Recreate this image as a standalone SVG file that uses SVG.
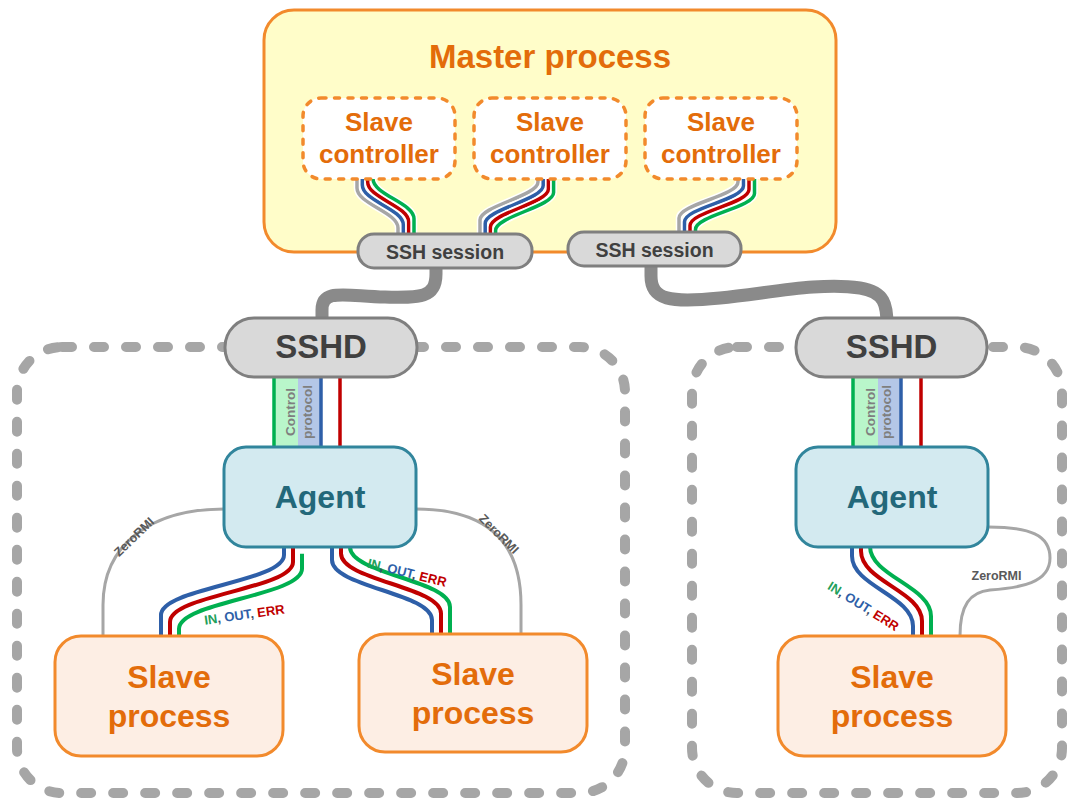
<svg xmlns="http://www.w3.org/2000/svg" xmlns:xlink="http://www.w3.org/1999/xlink" width="1068" height="800" viewBox="0 0 1068 800">
  <style>
    text { font-family: "Liberation Sans", Arial, sans-serif; font-weight: bold; }
    .host { fill: none; stroke: #a6a6a6; stroke-width: 10; stroke-dasharray: 10 22; stroke-linecap: round; }
    .master { fill: #fffdc9; stroke: #f28a2c; stroke-width: 3; }
    .ctrl { fill: #ffffff; stroke: #f28a2c; stroke-width: 3.5; stroke-dasharray: 5 8.5; stroke-linecap: round; }
    .ssh { fill: #d9d9d9; stroke: #7f7f7f; stroke-width: 3; }
    .agent { fill: #d3eaf0; stroke: #31859c; stroke-width: 3; }
    .proc { fill: #fdeee4; stroke: #f28a2c; stroke-width: 3; }
    .orange { fill: #e36c0a; }
    .dark { fill: #404040; }
    .teal { fill: #23687a; }
    .pipe { fill: none; stroke: #8a8a8a; stroke-width: 13; }
    .halo { fill: none; stroke: #ffffff; stroke-width: 6.5; }
    .gy { fill: none; stroke: #a6a6a6; stroke-width: 3.5; }
    .bl { fill: none; stroke: #2e5fa8; stroke-width: 3.5; }
    .rd { fill: none; stroke: #c00000; stroke-width: 3.5; }
    .gn { fill: none; stroke: #00b050; stroke-width: 3.5; }
    .io { stroke-width: 4; }
    .rmi { fill: none; stroke: #a6a6a6; stroke-width: 3; }
    .rmitxt { fill: #595959; font-size: 12.5px; }
    .cp { fill: #7f7f7f; font-size: 13.5px; }
    .iot { font-size: 13px; }
    .tg { fill: #22a05a; } .tb { fill: #2e5fa8; } .tr { fill: #c00000; } .tc { fill: #3a4a6a; }
  </style>
  <defs>
    <!-- base centre lines; parallel strands are shifted copies -->
    <path id="cw1" d="M357,160 L357,188 C357,204 398,212 398,228 L398,252"/>
    <path id="cw2" d="M538,160 L538,182 C538,196 480,206 480,220 L480,252"/>
    <path id="cw3" d="M738,160 L738,182 C738,196 679,204 679,218 L679,250"/>
    <path id="io1" d="M284,540 L284,555 C284,582 161,588 161,615 L161,650"/>
    <path id="io2" d="M332,540 L332,560 C332,587 432,593 432,620 L432,650"/>
    <path id="io3" d="M852,540 L852,556 C852,586 913,596 913,626 L913,650"/>
  </defs>

  <!-- host boundaries -->
  <g id="host-left">
    <rect class="host" x="17" y="347" width="608" height="446" rx="45"/>
  </g>
  <g id="host-right">
    <rect class="host" x="692" y="347" width="370" height="446" rx="45"/>
  </g>

  <!-- master process container -->
  <g id="master-process">
    <rect class="master" x="264" y="10" width="572" height="242" rx="30"/>
    <text class="orange" x="550" y="68" font-size="33" text-anchor="middle">Master process</text>
  </g>

  <g id="connectors">
    <!-- controller to SSH session bundles -->
    <g>
      <use href="#cw1" class="halo"/><use href="#cw1" class="gy"/>
      <use href="#cw1" transform="translate(5.33,-3.05)" class="halo"/><use href="#cw1" transform="translate(5.33,-3.05)" class="bl"/>
      <use href="#cw1" transform="translate(10.66,-6.1)" class="halo"/><use href="#cw1" transform="translate(10.66,-6.1)" class="rd"/>
      <use href="#cw1" transform="translate(16,-9.15)" class="halo"/><use href="#cw1" transform="translate(16,-9.15)" class="gn"/>
    </g>
    <g>
      <use href="#cw2" class="halo"/><use href="#cw2" class="gy"/>
      <use href="#cw2" transform="translate(5.2,3.5)" class="halo"/><use href="#cw2" transform="translate(5.2,3.5)" class="bl"/>
      <use href="#cw2" transform="translate(10.4,7)" class="halo"/><use href="#cw2" transform="translate(10.4,7)" class="rd"/>
      <use href="#cw2" transform="translate(15.6,10.5)" class="halo"/><use href="#cw2" transform="translate(15.6,10.5)" class="gn"/>
    </g>
    <g>
      <use href="#cw3" class="halo"/><use href="#cw3" class="gy"/>
      <use href="#cw3" transform="translate(5.5,3.8)" class="halo"/><use href="#cw3" transform="translate(5.5,3.8)" class="bl"/>
      <use href="#cw3" transform="translate(11,7.6)" class="halo"/><use href="#cw3" transform="translate(11,7.6)" class="rd"/>
      <use href="#cw3" transform="translate(16.5,11.4)" class="halo"/><use href="#cw3" transform="translate(16.5,11.4)" class="gn"/>
    </g>

    <!-- SSH tunnels -->
    <path class="pipe" d="M436,262 L436,274 C436,298 420,298 385,297 C345,296 322,288 322,310 L322,325"/>
    <path class="pipe" d="M651,262 L651,276 C651,300 670,303 720,298 C770,293 820,282 860,288 C885,292 887,305 887,325"/>

    <!-- control protocol channels, left host -->
    <rect x="274" y="377" width="24" height="70" fill="#b9f6ca"/>
    <rect x="298" y="377" width="23" height="70" fill="#b4c7e7"/>
    <line class="gn" x1="274" y1="377" x2="274" y2="447"/>
    <line class="bl" x1="321" y1="377" x2="321" y2="447"/>
    <line class="rd" x1="340" y1="377" x2="340" y2="447"/>
    <text class="cp" transform="translate(295,412) rotate(-90)" text-anchor="middle">Control</text>
    <text class="cp" transform="translate(311.5,412) rotate(-90)" text-anchor="middle">protocol</text>

    <!-- control protocol channels, right host -->
    <rect x="853" y="377" width="25" height="70" fill="#b9f6ca"/>
    <rect x="878" y="377" width="23" height="70" fill="#b4c7e7"/>
    <line class="gn" x1="853" y1="377" x2="853" y2="447"/>
    <line class="bl" x1="901" y1="377" x2="901" y2="447"/>
    <line class="rd" x1="921" y1="377" x2="921" y2="447"/>
    <text class="cp" transform="translate(875,412) rotate(-90)" text-anchor="middle">Control</text>
    <text class="cp" transform="translate(890.5,412) rotate(-90)" text-anchor="middle">protocol</text>

    <!-- ZeroRMI links -->
    <path class="rmi" d="M224,509 C150,509 103,545 103,605 L103,636"/>
    <text class="rmitxt" transform="translate(137,540) rotate(-44)" text-anchor="middle">ZeroRMI</text>
    <path class="rmi" d="M416,509 C490,509 521,545 521,605 L521,636"/>
    <text class="rmitxt" transform="translate(496,537) rotate(45)" text-anchor="middle">ZeroRMI</text>
    <path class="rmi" d="M988,527 C1030,527 1050,535 1050,558 C1050,583 1020,588 990,590 C970,592 960,605 960,636"/>
    <text class="rmitxt" x="996.5" y="579.5" font-size="13" text-anchor="middle">ZeroRMI</text>

    <!-- standard streams -->
    <use href="#io1" class="bl io"/>
    <use href="#io1" transform="translate(9,6.9)" class="rd io"/>
    <use href="#io1" transform="translate(18,13.8)" class="gn io"/>
    <use href="#io2" class="bl io"/>
    <use href="#io2" transform="translate(9,-6.5)" class="rd io"/>
    <use href="#io2" transform="translate(18,-13)" class="gn io"/>
    <use href="#io3" class="bl io"/>
    <use href="#io3" transform="translate(9,-4.9)" class="rd io"/>
    <use href="#io3" transform="translate(18,-9.8)" class="gn io"/>

    <text class="iot" transform="translate(245,619) rotate(-8)" text-anchor="middle"><tspan class="tg">IN</tspan><tspan class="tc">, </tspan><tspan class="tb">OUT</tspan><tspan class="tc">, </tspan><tspan class="tr">ERR</tspan></text>
    <text class="iot" transform="translate(406,577) rotate(14)" text-anchor="middle"><tspan class="tg">IN</tspan><tspan class="tc">, </tspan><tspan class="tb">OUT</tspan><tspan class="tc">, </tspan><tspan class="tr">ERR</tspan></text>
    <text class="iot" transform="translate(861,610) rotate(32)" text-anchor="middle"><tspan class="tg">IN</tspan><tspan class="tc">, </tspan><tspan class="tb">OUT</tspan><tspan class="tc">, </tspan><tspan class="tr">ERR</tspan></text>
  </g>

  <!-- slave controllers inside the master -->
  <g id="slave-controller-1">
    <rect class="ctrl" x="303" y="98" width="152" height="81" rx="18"/>
    <text class="orange" x="379" y="131" font-size="26" text-anchor="middle">Slave</text>
    <text class="orange" x="379" y="163" font-size="26" text-anchor="middle">controller</text>
  </g>
  <g id="slave-controller-2">
    <rect class="ctrl" x="474" y="98" width="152" height="81" rx="18"/>
    <text class="orange" x="550" y="131" font-size="26" text-anchor="middle">Slave</text>
    <text class="orange" x="550" y="163" font-size="26" text-anchor="middle">controller</text>
  </g>
  <g id="slave-controller-3">
    <rect class="ctrl" x="645" y="98" width="152" height="81" rx="18"/>
    <text class="orange" x="721" y="131" font-size="26" text-anchor="middle">Slave</text>
    <text class="orange" x="721" y="163" font-size="26" text-anchor="middle">controller</text>
  </g>

  <!-- SSH sessions -->
  <g id="ssh-session-1">
    <rect class="ssh" x="358" y="234" width="174" height="34" rx="16"/>
    <text class="dark" x="445" y="258.5" font-size="19.5" text-anchor="middle">SSH session</text>
  </g>
  <g id="ssh-session-2">
    <rect class="ssh" x="568" y="232" width="173" height="34" rx="16"/>
    <text class="dark" x="654.5" y="256.5" font-size="19.5" text-anchor="middle">SSH session</text>
  </g>

  <!-- SSH daemons -->
  <g id="sshd-left">
    <rect class="ssh" x="225" y="318" width="192" height="59" rx="29"/>
    <text class="dark" x="321" y="358" font-size="33" text-anchor="middle">SSHD</text>
  </g>
  <g id="sshd-right">
    <rect class="ssh" x="796" y="318" width="191" height="59" rx="29"/>
    <text class="dark" x="891.5" y="358" font-size="33" text-anchor="middle">SSHD</text>
  </g>

  <!-- agents -->
  <g id="agent-left">
    <rect class="agent" x="224" y="447" width="192" height="100" rx="22"/>
    <text class="teal" x="320" y="508" font-size="32" text-anchor="middle">Agent</text>
  </g>
  <g id="agent-right">
    <rect class="agent" x="796" y="447" width="192" height="100" rx="22"/>
    <text class="teal" x="892" y="508" font-size="32" text-anchor="middle">Agent</text>
  </g>

  <!-- slave processes -->
  <g id="slave-process-1">
    <rect class="proc" x="55" y="636" width="228" height="120" rx="26"/>
    <text class="orange" x="169" y="688" font-size="32" text-anchor="middle">Slave</text>
    <text class="orange" x="169" y="727" font-size="32" text-anchor="middle">process</text>
  </g>
  <g id="slave-process-2">
    <rect class="proc" x="359" y="634" width="228" height="118" rx="26"/>
    <text class="orange" x="473" y="685" font-size="32" text-anchor="middle">Slave</text>
    <text class="orange" x="473" y="724" font-size="32" text-anchor="middle">process</text>
  </g>
  <g id="slave-process-3">
    <rect class="proc" x="778" y="636" width="228" height="120" rx="26"/>
    <text class="orange" x="892" y="688" font-size="32" text-anchor="middle">Slave</text>
    <text class="orange" x="892" y="727" font-size="32" text-anchor="middle">process</text>
  </g>
</svg>
